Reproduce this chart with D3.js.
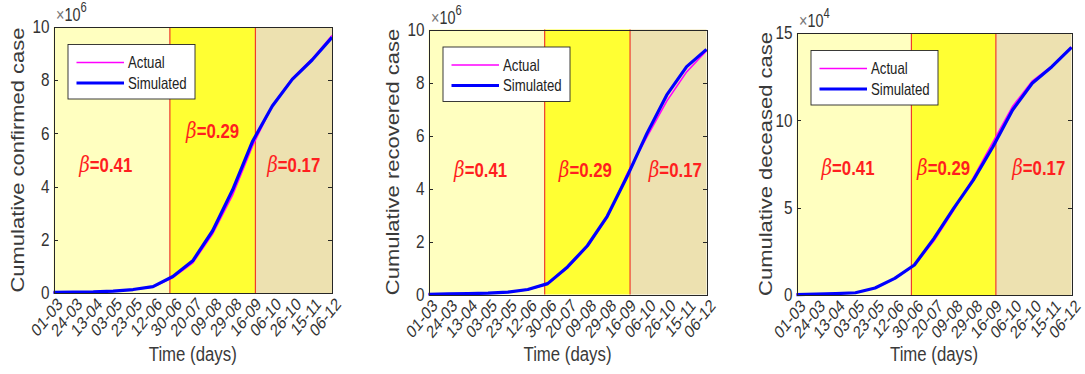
<!DOCTYPE html>
<html>
<head>
<meta charset="utf-8">
<script src="https://cdn.jsdelivr.net/npm/d3@7"></script>
<style>
  body { margin: 0; background: #fff; }
  svg { display: block; font-family: "Liberation Sans", Arial, sans-serif; }
  .axis path, .axis line { stroke: #262626; shape-rendering: crispEdges; }
  .axis text { fill: #333; font-size: 18px; }
  .axis-label { fill: #3a3a3a; }
  .beta { fill: #ff1f1f; font-size: 21px; }
</style>
</head>
<body>
<div id="chart"></div>
<script>
var dates = ["01-03", "24-03", "13-04", "03-05", "23-05", "12-06", "30-06", "20-07",
             "09-08", "29-08", "16-09", "06-10", "26-10", "15-11", "06-12"];

// x10^6
var confirmedActual    = [0.02, 0.03, 0.04, 0.07, 0.12, 0.23, 0.58, 1.13, 2.22, 3.68, 5.52, 7.05, 8.06, 8.80, 9.68];
var confirmedSimulated = [0.02, 0.03, 0.04, 0.07, 0.13, 0.24, 0.62, 1.21, 2.34, 3.87, 5.69, 7.03, 8.03, 8.76, 9.61];

// x10^6
var recoveredActual    = [0.01, 0.02, 0.03, 0.05, 0.09, 0.18, 0.39, 1.00, 1.80, 2.90, 4.55, 5.95, 7.30, 8.40, 9.20];
var recoveredSimulated = [0.01, 0.02, 0.03, 0.05, 0.09, 0.19, 0.41, 1.04, 1.84, 2.95, 4.45, 6.08, 7.53, 8.60, 9.25];

// x10^4
var deceasedActual    = [0.02, 0.05, 0.08, 0.13, 0.40, 0.95, 1.70, 3.10, 4.85, 6.70, 8.75, 10.80, 12.25, 13.10, 14.20];
var deceasedSimulated = [0.02, 0.05, 0.08, 0.13, 0.40, 0.95, 1.72, 3.24, 4.96, 6.58, 8.49, 10.59, 12.12, 13.07, 14.18];

var betaValues = ["0.41", "0.29", "0.17"];
var changePoints = [5.85, 10.15];   // in tick-index units
var seriesNames = ["Actual", "Simulated"];

var regionColors = ["#ffffc0", "#ffff33", "#ede1b0"];

function curvePanel() {

  var box = {left: 0, top: 0, right: 100, bottom: 100},
      yMax = 10,
      yStep = 2,
      exponent = 6,
      yLabel = "",
      yLabelGap = 29,
      betaY = [170, 170, 170],
      betaShift = [-6, 0, 0];

  function chart(selection) {
    selection.each(function(data) {

      var root = d3.select(this);
      var n = dates.length;

      var x = d3.scaleLinear()
          .domain([0, n - 1])
          .range([box.left, box.right]);

      var y = d3.scaleLinear()
          .domain([0, yMax])
          .range([box.bottom, box.top]);

      var bounds = [0].concat(changePoints, [n - 1]);

      // shaded periods
      root.append("g").selectAll("rect")
          .data(d3.range(bounds.length - 1))
        .enter().append("rect")
          .attr("x", function(i) { return x(bounds[i]); })
          .attr("y", box.top)
          .attr("width", function(i) { return x(bounds[i + 1]) - x(bounds[i]); })
          .attr("height", box.bottom - box.top)
          .style("fill", function(i) { return regionColors[i]; });

      root.append("g").selectAll("line")
          .data(changePoints)
        .enter().append("line")
          .attr("x1", function(d) { return x(d); })
          .attr("x2", function(d) { return x(d); })
          .attr("y1", box.top)
          .attr("y2", box.bottom)
          .style("stroke", "#f03c2c")
          .style("stroke-width", 1.2);

      // beta labels
      var beta = root.append("g").selectAll("text")
          .data(betaValues)
        .enter().append("text")
          .attr("class", "beta")
          .attr("transform", function(d, i) {
            var cx = (x(bounds[i]) + x(bounds[i + 1])) / 2 + betaShift[i];
            return "translate(" + cx + "," + betaY[i] + ") scale(0.8,1)";
          })
          .style("text-anchor", "middle");
      beta.append("tspan")
          .style("font-family", "'DejaVu Serif', serif")
          .style("font-style", "italic")
          .style("font-size", "23px")
          .text("\u03b2");
      beta.append("tspan")
          .style("font-weight", "bold")
          .text(function(d) { return "=" + d; });

      var line = d3.line()
          .x(function(d, i) { return x(i); })
          .y(function(d) { return y(d); });

      root.append("path")
          .datum(data.actual)
          .attr("d", line)
          .style("fill", "none")
          .style("stroke", "#ff00ff")
          .style("stroke-width", 1.6);

      root.append("path")
          .datum(data.simulated)
          .attr("d", line)
          .style("fill", "none")
          .style("stroke", "#0000ff")
          .style("stroke-width", 3.2)
          .style("stroke-linejoin", "round");

      // axes
      var yTicks = d3.range(0, yMax + 0.001, yStep);

      var yAxis = root.append("g")
          .attr("class", "axis")
          .attr("transform", "translate(" + box.left + ",0)")
          .call(d3.axisLeft(y).tickValues(yTicks).tickSize(-4).tickFormat(d3.format("d")));
      yAxis.selectAll("text")
          .attr("x", 0)
          .attr("transform", "translate(-4,0) scale(0.85,1)");

      root.append("g")
          .attr("class", "axis")
          .attr("transform", "translate(" + box.right + ",0)")
          .call(d3.axisRight(y).tickValues(yTicks).tickSize(-4).tickFormat(""));

      var xAxis = root.append("g")
          .attr("class", "axis")
          .attr("transform", "translate(0," + box.bottom + ")")
          .call(d3.axisBottom(x).tickValues(d3.range(n)).tickSize(0)
            .tickFormat(function(i) { return dates[i]; }));
      xAxis.selectAll("text")
          .attr("x", 0)
          .attr("y", 0)
          .attr("dy", ".72em")
          .style("text-anchor", "end")
          .attr("transform", "translate(2,3) scale(0.8,1) rotate(-45)");

      root.append("g")
          .attr("class", "axis")
          .attr("transform", "translate(0," + box.top + ")")
          .call(d3.axisTop(x).tickValues([]).tickSize(0));

      // exponent
      var exp = root.append("text")
          .attr("transform", "translate(" + (box.left + 2.5) + "," + (box.top - 6) + ") scale(0.8,1)")
          .style("font-size", "18px")
          .style("fill", "#333");
      exp.append("tspan").style("fill", "#777").text("\u00d7");
      exp.append("tspan").text("10");
      exp.append("tspan")
          .attr("dy", -9)
          .style("font-size", "14px")
          .text(exponent);

      root.append("text")
          .attr("class", "axis-label")
          .attr("transform", "translate(" + (box.left - yLabelGap) + "," + (box.top + box.bottom) / 2 +
                ") scale(0.8,1) rotate(-90)")
          .style("text-anchor", "middle")
          .style("font-size", "22px")
          .text(yLabel);

      root.append("text")
          .attr("class", "axis-label")
          .attr("transform", "translate(" + (box.left + box.right) / 2 + ",361) scale(0.8,1)")
          .style("text-anchor", "middle")
          .style("font-size", "21px")
          .text("Time (days)");

      // legend
      var lg = root.append("g")
          .attr("transform", "translate(" + (box.left + 14.5) + "," + (box.top + 17.5) + ")");

      lg.append("rect")
          .attr("width", 127)
          .attr("height", 54.5)
          .style("fill", "#fff")
          .style("stroke", "#262626")
          .style("stroke-width", 0.9);

      var item = lg.selectAll(".item")
          .data(seriesNames)
        .enter().append("g")
          .attr("transform", function(d, i) { return "translate(0," + (18 + i * 20.5) + ")"; });

      item.append("line")
          .attr("x1", 8.5)
          .attr("x2", 56)
          .style("stroke", function(d, i) { return i ? "#0000ff" : "#ff00ff"; })
          .style("stroke-width", function(d, i) { return i ? 3.2 : 1.6; });

      item.append("text")
          .attr("transform", "translate(60,0) scale(0.8,1)")
          .attr("dy", ".36em")
          .style("font-size", "16.5px")
          .style("fill", "#222")
          .text(function(d) { return d; });
    });
  }

  chart.box = function(_) { box = _; return chart; };
  chart.yMax = function(_) { yMax = _; return chart; };
  chart.yStep = function(_) { yStep = _; return chart; };
  chart.exponent = function(_) { exponent = _; return chart; };
  chart.yLabel = function(_) { yLabel = _; return chart; };
  chart.yLabelGap = function(_) { yLabelGap = _; return chart; };
  chart.betaY = function(_) { betaY = _; return chart; };
  chart.betaShift = function(_) { betaShift = _; return chart; };

  return chart;
}

var svg = d3.select("#chart").append("svg")
    .attr("width", 1085)
    .attr("height", 374);

svg.append("g")
    .datum({actual: confirmedActual, simulated: confirmedSimulated})
    .call(curvePanel()
      .box({left: 53.5, top: 27, right: 332, bottom: 293})
      .yMax(10).yStep(2).exponent(6)
      .yLabel("Cumulative confirmed case")
      .yLabelGap(29.5)
      .betaY([171.5, 138, 171.5])
      .betaShift([-6, 0, 0]));

svg.append("g")
    .datum({actual: recoveredActual, simulated: recoveredSimulated})
    .call(curvePanel()
      .box({left: 428.5, top: 29.5, right: 706.5, bottom: 294.5})
      .yMax(10).yStep(2).exponent(6)
      .yLabel("Cumulative recovered case")
      .yLabelGap(29.5)
      .betaY([176.5, 176.5, 176.5])
      .betaShift([-6, -2, 7]));

svg.append("g")
    .datum({actual: deceasedActual, simulated: deceasedSimulated})
    .call(curvePanel()
      .box({left: 796.5, top: 33, right: 1071.5, bottom: 295})
      .yMax(15).yStep(5).exponent(4)
      .yLabel("Cumulative deceased case")
      .yLabelGap(25)
      .betaY([175, 175, 175])
      .betaShift([-6, -10, 5]));
</script>
</body>
</html>
